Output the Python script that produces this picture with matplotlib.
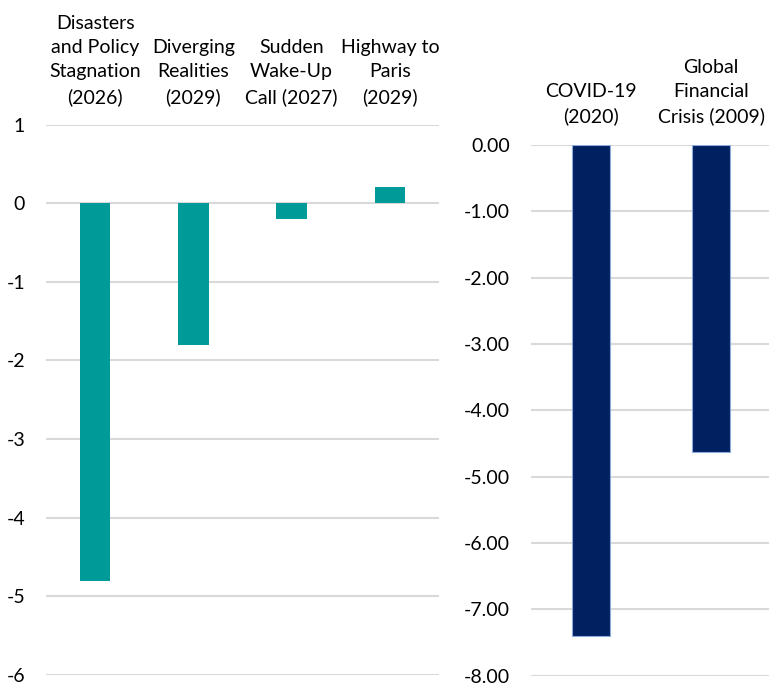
import matplotlib
matplotlib.use("Agg")
import matplotlib.pyplot as plt

# Scenario impacts (left panel)
scenario_labels = [
    "Disasters\nand Policy\nStagnation\n(2026)",
    "Diverging\nRealities\n(2029)",
    "Sudden\nWake-Up\nCall (2027)",
    "Highway to\nParis\n(2029)",
]
scenario_values = [-4.8, -1.8, -0.2, 0.2]
scenario_ticks = [1, 0, -1, -2, -3, -4, -5, -6]

# Historical shocks (right panel)
shock_labels = ["COVID-19\n(2020)", "Global\nFinancial\nCrisis (2009)"]
shock_values = [-7.4, -4.63]
shock_ticks = [0, -1, -2, -3, -4, -5, -6, -7, -8]

TEAL = "#009B98"
NAVY = "#002060"
GRID = "#D9D9D9"
FONT = ["Lato", "DejaVu Sans"]

plt.rcParams["font.family"] = FONT
plt.rcParams["font.size"] = 14

fig = plt.figure(figsize=(7.69, 6.83), dpi=100)

ax1 = fig.add_axes([46 / 769, 8 / 683, 393 / 769, 550.5 / 683])
ax2 = fig.add_axes([531 / 769, 7.3 / 683, 240 / 769, 530.7 / 683])


def style(ax):
    for s in ax.spines.values():
        s.set_visible(False)
    ax.yaxis.grid(True, color=GRID, linewidth=1.5)
    ax.set_axisbelow(True)
    ax.tick_params(axis="y", length=0, pad=15, labelsize=14, colors="black")
    ax.xaxis.tick_top()
    ax.tick_params(axis="x", length=0, pad=13.5, labelsize=14, colors="black")


x1 = range(len(scenario_values))
ax1.bar(x1, scenario_values, width=0.31, color=TEAL)
ax1.set_xlim(-0.5, len(scenario_values) - 0.5)
ax1.set_ylim(-6, 1)
ax1.set_yticks(scenario_ticks)
ax1.set_yticklabels([f"{t:d}" for t in scenario_ticks])
ax1.set_xticks(list(x1))
ax1.set_xticklabels(scenario_labels, linespacing=1.5)
style(ax1)

x2 = range(len(shock_values))
ax2.bar(x2, shock_values, width=0.32, color=NAVY, edgecolor="#8EA9DB", linewidth=0.8)
ax2.set_xlim(-0.5, len(shock_values) - 0.5)
ax2.set_ylim(-8, 0)
ax2.set_yticks(shock_ticks)
ax2.set_yticklabels([f"{t:.2f}" for t in shock_ticks])
ax2.set_xticks(list(x2))
ax2.set_xticklabels(shock_labels, linespacing=1.5)
style(ax2)
ax2.tick_params(axis="x", pad=14.5)

fig.savefig("out.png", dpi=100, facecolor="white")
